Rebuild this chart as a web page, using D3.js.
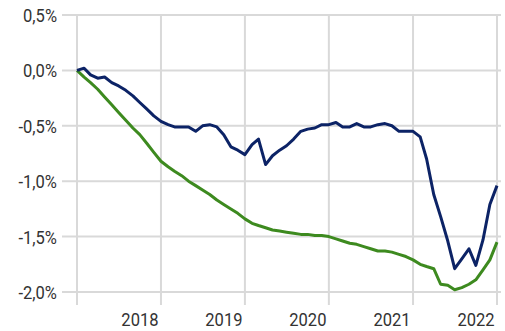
<!DOCTYPE html>
<html>
<head>
<meta charset="utf-8">
<script src="https://cdn.jsdelivr.net/npm/d3@7"></script>
<style>
  html, body { margin: 0; padding: 0; background: #fff; }
  svg { display: block; }
  .lbl { font-family: "Roboto", "Liberation Sans", sans-serif; font-size: 18px; fill: #333; }
</style>
</head>
<body>
<svg id="chart" width="505" height="331"></svg>
<script>
// Monthly observations, Jan 2017 .. Jan 2022 (%)
const months = d3.range(61).map(i => new Date(2017, i, 1));
const seriesBlue = [
  0.00, 0.02, -0.04, -0.07, -0.06, -0.11, -0.14, -0.18, -0.23, -0.29, -0.35, -0.41,
  -0.46, -0.49, -0.51, -0.51, -0.51, -0.55, -0.50, -0.49, -0.51, -0.58, -0.69, -0.72,
  -0.76, -0.67, -0.62, -0.85, -0.77, -0.72, -0.68, -0.62, -0.55, -0.53, -0.52, -0.49,
  -0.49, -0.47, -0.51, -0.51, -0.48, -0.51, -0.51, -0.49, -0.48, -0.50, -0.55, -0.55,
  -0.55, -0.60, -0.80, -1.12, -1.32, -1.54, -1.79, -1.70, -1.61, -1.76, -1.53, -1.21,
  -1.04
];
const seriesGreen = [
  0.00, -0.06, -0.11, -0.17, -0.24, -0.31, -0.38, -0.45, -0.52, -0.58, -0.66, -0.74,
  -0.82, -0.87, -0.91, -0.95, -1.00, -1.04, -1.08, -1.12, -1.17, -1.21, -1.25, -1.29,
  -1.34, -1.38, -1.40, -1.42, -1.44, -1.45, -1.46, -1.47, -1.48, -1.48, -1.49, -1.49,
  -1.50, -1.52, -1.54, -1.56, -1.57, -1.59, -1.61, -1.63, -1.63, -1.64, -1.66, -1.68,
  -1.71, -1.75, -1.77, -1.79, -1.93, -1.94, -1.98, -1.96, -1.93, -1.89, -1.80, -1.71,
  -1.55
];
const yTicks = [0.5, 0.0, -0.5, -1.0, -1.5, -2.0];
const yearTicks = [2017, 2018, 2019, 2020, 2021, 2022];
const yearLabels = ["2018", "2019", "2020", "2021", "2022"];

const svg = d3.select("#chart");

const x = d3.scaleTime()
  .domain([new Date(2017, 0, 1), new Date(2022, 0, 1)])
  .range([77, 497]);
const y = d3.scaleLinear()
  .domain([-2.0, 0.5])
  .range([292, 15]);

const fmt = v => d3.format(".1f")(v).replace(".", ",").replace("\u2212", "-") + "%";
const NARROW = 0.92; // horizontal squeeze for the condensed label look

// horizontal gridlines
svg.append("g")
  .selectAll("line")
  .data(yTicks)
  .join("line")
  .attr("x1", 62).attr("x2", 501)
  .attr("y1", d => y(d)).attr("y2", d => y(d))
  .attr("stroke", "#d9d9d9").attr("stroke-width", 2);

// vertical gridlines at each January, extending below the plot as ticks
svg.append("g")
  .selectAll("line")
  .data(yearTicks)
  .join("line")
  .attr("x1", d => x(new Date(d, 0, 1))).attr("x2", d => x(new Date(d, 0, 1)))
  .attr("y1", 15).attr("y2", 305)
  .attr("stroke", "#d9d9d9").attr("stroke-width", 2);

// y labels
svg.append("g")
  .selectAll("text")
  .data(yTicks)
  .join("text")
  .attr("class", "lbl")
  .attr("transform", d => `translate(57,${y(d) + 7}) scale(${NARROW},1)`)
  .attr("text-anchor", "end")
  .text(fmt);

// year labels, set just left of each January gridline
svg.append("g")
  .selectAll("text")
  .data(yearLabels)
  .join("text")
  .attr("class", "lbl")
  .attr("transform", d => `translate(${x(new Date(+d, 0, 1)) - 21},326) scale(${NARROW},1)`)
  .attr("text-anchor", "middle")
  .text(d => d);

const line = vals => d3.line()
  .x((d, i) => x(months[i]))
  .y(d => y(d))(vals);

svg.append("path")
  .attr("d", line(seriesGreen))
  .attr("fill", "none")
  .attr("stroke", "#3d8a1f")
  .attr("stroke-width", 3)
  .attr("stroke-linejoin", "round");

svg.append("path")
  .attr("d", line(seriesBlue))
  .attr("fill", "none")
  .attr("stroke", "#0c2366")
  .attr("stroke-width", 3)
  .attr("stroke-linejoin", "round");
</script>
</body>
</html>
